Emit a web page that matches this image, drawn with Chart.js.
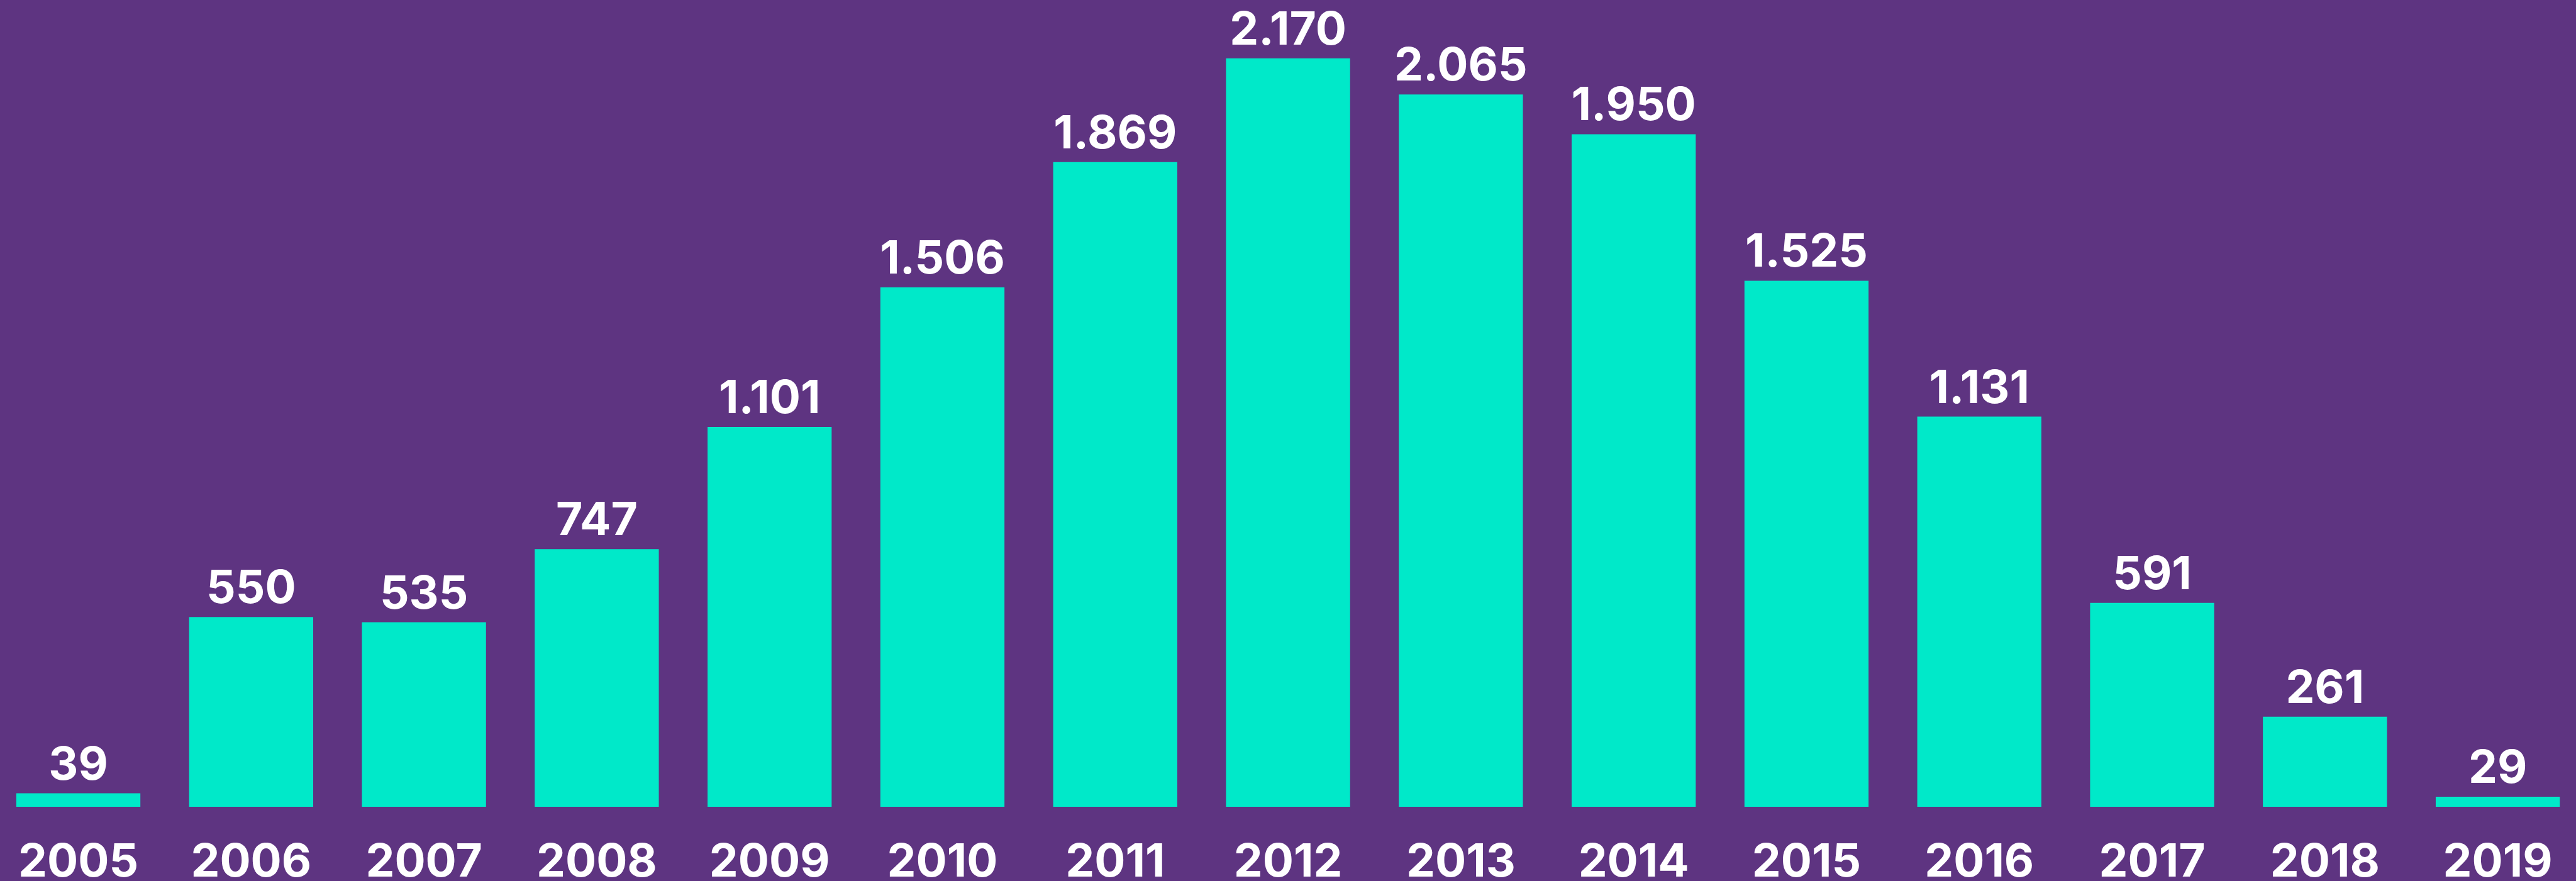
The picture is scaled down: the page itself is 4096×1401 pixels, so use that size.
<!DOCTYPE html>
<html lang="pt-br">

<head>
    <meta charset="UTF-8">
    <title>Por ano</title>
    <script src="https://cdn.jsdelivr.net/npm/chart.js"></script>
    <style>
        html, body {
            margin: 0;
            padding: 0;
            background-color: #5e3481;
            overflow: hidden;
        }

        /* a área do gráfico passa um pouco das bordas, como no original */
        #chartContainer {
            width: 4125px;
            height: 1401px;
            margin-left: -16px;
            position: relative;
        }
    </style>
</head>

<body>
    <div id="chartContainer">
        <canvas id="barChart"></canvas>
    </div>

    <script>
        // dados
        const years = ['2005', '2006', '2007', '2008', '2009', '2010', '2011', '2012',
            '2013', '2014', '2015', '2016', '2017', '2018', '2019'];
        const totals = [39, 550, 535, 747, 1101, 1506, 1869, 2170, 2065, 1950, 1525, 1131, 591, 261, 29];

        const fontFamily = 'Inter, "Open Sans", sans-serif';

        // 2170 -> "2.170"
        function formatNumber(v) {
            return String(v).replace(/\B(?=(\d{3})+(?!\d))/g, '.');
        }

        // rótulos de valor acima das barras
        const valueLabels = {
            id: 'valueLabels',
            afterDatasetsDraw(chart) {
                const ctx = chart.ctx;
                const meta = chart.getDatasetMeta(0);
                ctx.save();
                ctx.fillStyle = '#ffffff';
                ctx.font = '700 73px ' + fontFamily;
                ctx.textAlign = 'center';
                ctx.textBaseline = 'alphabetic';
                meta.data.forEach((bar, i) => {
                    ctx.fillText(formatNumber(totals[i]), bar.x, bar.y - 22);
                });
                ctx.restore();
            }
        };

        new Chart(document.getElementById('barChart'), {
            type: 'bar',
            data: {
                labels: years,
                datasets: [{
                    data: totals,
                    backgroundColor: '#00e9c9',
                    borderWidth: 0,
                    categoryPercentage: 1,
                    barPercentage: 0.718
                }]
            },
            options: {
                responsive: true,
                maintainAspectRatio: false,
                animation: false,
                layout: {
                    padding: 0
                },
                plugins: {
                    legend: { display: false },
                    tooltip: { enabled: false }
                },
                scales: {
                    x: {
                        grid: { display: false, drawTicks: false },
                        border: { display: false },
                        ticks: {
                            color: '#ffffff',
                            font: { family: fontFamily, size: 73, weight: '700' },
                            padding: 45,
                            maxRotation: 0,
                            autoSkip: false
                        },
                        afterFit(scale) {
                            scale.height = 118;
                        }
                    },
                    y: {
                        display: false,
                        min: 0,
                        max: 2339
                    }
                }
            },
            plugins: [valueLabels]
        });
    </script>
</body>

</html>
